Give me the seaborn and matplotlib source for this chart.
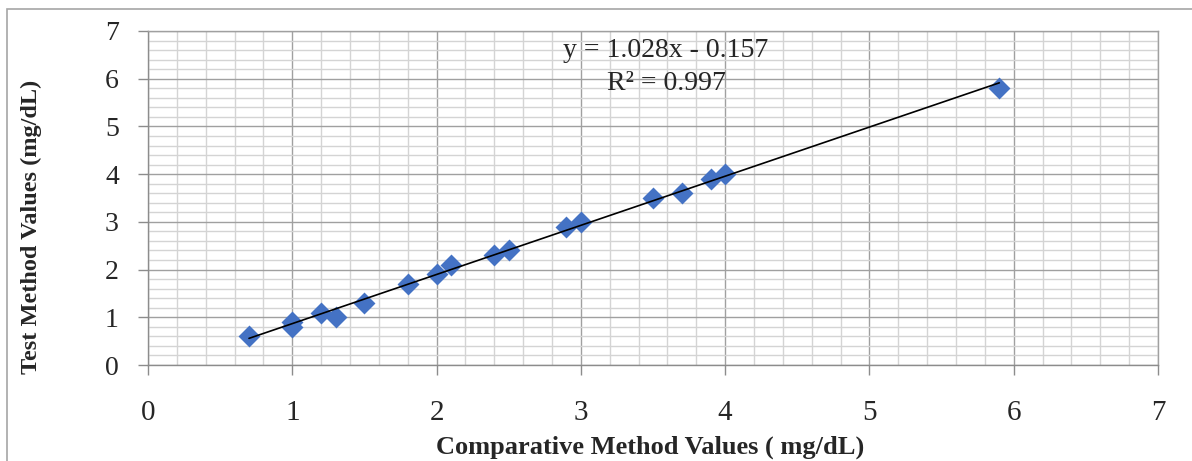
import numpy as np
import pandas as pd
import matplotlib
matplotlib.use('Agg')
import matplotlib.pyplot as plt
from matplotlib.ticker import MultipleLocator
from matplotlib.patches import Rectangle
import seaborn as sns

# Comparative vs test method values (mg/dL)
comparative = [0.7, 1.0, 1.0, 1.2, 1.3, 1.5, 1.8, 2.0, 2.1, 2.4, 2.5,
               2.9, 3.0, 3.5, 3.7, 3.9, 4.0, 5.9]
test = [0.6, 0.9, 0.8, 1.1, 1.0, 1.3, 1.7, 1.9, 2.1, 2.3, 2.4,
        2.9, 3.0, 3.5, 3.6, 3.9, 4.0, 5.8]

eq_text = 'y = 1.028x - 0.157'
r2_text = 'R² = 0.997'

df = pd.DataFrame({'Comparative': comparative, 'Test': test})

sns.set_theme(style='white')
plt.rcParams['font.family'] = ['Liberation Serif', 'DejaVu Serif']

fig = plt.figure(figsize=(11.92, 4.61), dpi=100)
ax = fig.add_axes([148 / 1192, 1 - 365 / 461, 1010 / 1192, 334 / 461])

sns.regplot(x='Comparative', y='Test', data=df, ax=ax, ci=None,
            marker='D',
            scatter_kws={'s': 125, 'color': '#4472C4', 'alpha': 1,
                         'linewidths': 0, 'zorder': 3},
            line_kws={'color': 'black', 'linewidth': 1.2, 'zorder': 4})

ax.set_xlim(0, 7)
ax.set_ylim(0, 7)
ax.xaxis.set_major_locator(MultipleLocator(1))
ax.yaxis.set_major_locator(MultipleLocator(1))
ax.xaxis.set_minor_locator(MultipleLocator(0.2))
ax.yaxis.set_minor_locator(MultipleLocator(0.2))
ax.grid(which='major', color='#A0A0A0', linewidth=1.0)
ax.grid(which='minor', color='#D4D4D4', linewidth=1.0)
ax.set_axisbelow(True)

for sp in ax.spines.values():
    sp.set_color('#A0A0A0')
    sp.set_linewidth(1.0)
ax.spines['left'].set_color('#8C8C8C')
ax.spines['bottom'].set_color('#8C8C8C')

ax.tick_params(axis='both', which='major', direction='out', length=7,
               width=1, color='#8C8C8C', bottom=True, left=True)
ax.tick_params(axis='both', which='minor', length=0)
ax.tick_params(axis='y', labelsize=20, pad=14)
ax.tick_params(axis='x', labelsize=21, pad=18)

ax.set_xlabel('Comparative Method Values ( mg/dL)', fontsize=19,
              fontweight='bold')
ax.xaxis.set_label_coords(0.497, -0.21)
ax.set_ylabel('Test Method Values (mg/dL)', fontsize=17.5,
              fontweight='bold')
ax.yaxis.set_label_coords(-0.105, 0.413)

ax.text(3.59, 6.6, eq_text, ha='center', va='center', fontsize=20)
ax.text(3.59, 5.91, r2_text, ha='center', va='center', fontsize=20)

# chart area border
fig.patches.append(Rectangle((7 / 1192, -0.1), 1.2, 1.1 - 9 / 461,
                             transform=fig.transFigure, fill=False,
                             edgecolor='#A6A6A6', linewidth=1.2,
                             clip_on=False))

fig.savefig('out.png', dpi=100)
